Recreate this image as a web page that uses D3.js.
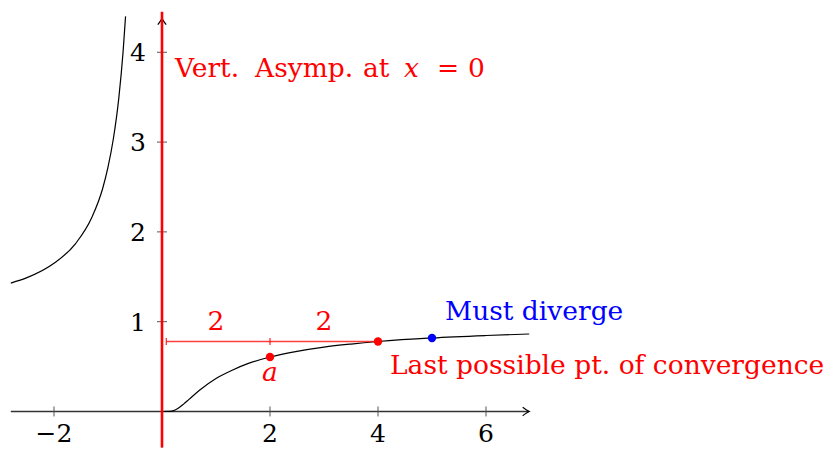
<!DOCTYPE html>
<html>
<head>
<meta charset="utf-8">
<script src="https://cdn.jsdelivr.net/npm/d3@7"></script>
<style>
  html, body { margin: 0; padding: 0; background: #fff; }
  svg { display: block; }
</style>
</head>
<body>
<svg id="chart" width="828" height="449"></svg>
<script>
// f(x) = e^(-1/x): left branch (x < 0) and right branch (x > 0)
const leftX  = [-2.8, -2.5, -2.0, -1.6, -1.3, -1.1, -1.0, -0.9, -0.8, -0.72, -0.675];
const leftY  = [1.43, 1.49, 1.65, 1.87, 2.16, 2.48, 2.72, 3.04, 3.49, 4.01, 4.40];
const rightX = [0, 0.1, 0.2, 0.3, 0.4, 0.5, 0.7, 1.0, 1.3, 1.6, 2.0, 2.5, 3.0, 3.5, 4.0, 5.0, 6.0, 6.8];
const rightY = [0, 0.0001, 0.007, 0.036, 0.082, 0.135, 0.24, 0.368, 0.46, 0.535, 0.607, 0.67, 0.717, 0.751, 0.779, 0.819, 0.846, 0.863];

// highlighted points
const pointA    = { x: 2, y: 0.607 };   // a
const pointLast = { x: 4, y: 0.779 };   // last possible point of convergence
const pointDiv  = { x: 5, y: 0.819 };   // must diverge

// distance markers along the bracket
const spanLabels = [{ x: 1, text: "2" }, { x: 3, text: "2" }];

const xTicks = [-2, 2, 4, 6];
const yTicks = [1, 2, 3, 4];

const xMin = -2.8, xMax = 6.8;
const yMin = -0.4, yMax = 4.38;

const FONT = "'DejaVu Serif', 'Liberation Serif', 'Noto Serif', serif";

const svg = d3.select("#chart").attr("font-family", FONT);
const x = d3.scaleLinear().domain([-3, 7]).range([0, 540]);
const y = d3.scaleLinear().domain([-0.4, 4.6]).range([447.4, -1.6]);

const RED = "#ff0000", BLUE = "#0000ff";
const FS = 26.5;
const TFS = 25;

// axes
const axisColor = "#333";
svg.append("line")
  .attr("x1", x(xMin)).attr("x2", x(xMax))
  .attr("y1", y(0)).attr("y2", y(0))
  .attr("stroke", axisColor).attr("stroke-width", 1.3);
svg.append("line")
  .attr("x1", x(0)).attr("x2", x(0))
  .attr("y1", y(yMin)).attr("y2", y(yMax))
  .attr("stroke", axisColor).attr("stroke-width", 1.3);

const arrow = "M -6.5,-4.2 Q -2,-0.8 0,0 Q -2,0.8 -6.5,4.2";
svg.append("path").attr("d", arrow)
  .attr("transform", `translate(${x(xMax)},${y(0)})`)
  .attr("fill", "none").attr("stroke", "#000").attr("stroke-width", 1.2);
svg.append("path").attr("d", arrow)
  .attr("transform", `translate(${x(0)},${y(yMax)}) rotate(-90)`)
  .attr("fill", "none").attr("stroke", "#000").attr("stroke-width", 1.2);

// ticks
const tickColor = "#555";
svg.selectAll(".xt").data(xTicks).join("line")
  .attr("x1", d => x(d)).attr("x2", d => x(d))
  .attr("y1", y(0) - 5).attr("y2", y(0) + 5)
  .attr("stroke", tickColor).attr("stroke-width", 1);
svg.selectAll(".yt").data(yTicks).join("line")
  .attr("x1", x(0) - 5).attr("x2", x(0) + 5)
  .attr("y1", d => y(d)).attr("y2", d => y(d))
  .attr("stroke", tickColor).attr("stroke-width", 1);

svg.selectAll(".xl").data(xTicks).join("text")
  .attr("x", d => x(d)).attr("y", 442)
  .attr("text-anchor", "middle").attr("font-size", TFS)
  .attr("fill", "#000")
  .text(d => d < 0 ? "\u2212" + Math.abs(d) : d);
svg.selectAll(".yl").data(yTicks).join("text")
  .attr("x", x(0) - 16).attr("y", d => y(d) + 9)
  .attr("text-anchor", "end").attr("font-size", TFS)
  .attr("fill", "#000")
  .text(d => d);

// function branches
const line = d3.line().x(d => x(d[0])).y(d => y(d[1])).curve(d3.curveMonotoneX);
svg.append("path")
  .attr("d", line(d3.zip(leftX, leftY)))
  .attr("fill", "none").attr("stroke", "#000").attr("stroke-width", 1.2);
svg.append("path")
  .attr("d", line(d3.zip(rightX, rightY)))
  .attr("fill", "none").attr("stroke", "#000").attr("stroke-width", 1.2);

// vertical asymptote
svg.append("line")
  .attr("x1", x(0)).attr("x2", x(0))
  .attr("y1", y(yMin)).attr("y2", y(4.45))
  .attr("stroke", RED).attr("stroke-width", 2.6);

// label, with math spacing around "="
const vert = svg.append("text")
  .attr("y", 77).attr("font-size", FS).attr("fill", RED);
[
  { t: "Vert.", x: 175 },
  { t: "Asymp.", x: 255 },
  { t: "at", x: 363 },
  { t: "x", x: 404, italic: true },
  { t: "=", x: 437 },
  { t: "0", x: 468 }
].forEach(p => {
  vert.append("tspan").attr("x", p.x)
    .attr("font-style", p.italic ? "italic" : null)
    .text(p.t);
});

// bracket from the asymptote to the last point
const bx0 = 0.08;
const bracket = svg.append("g")
  .attr("stroke", RED).attr("stroke-opacity", 0.75).attr("stroke-width", 1.4);
bracket.append("line")
  .attr("x1", x(bx0)).attr("x2", x(pointLast.x))
  .attr("y1", y(pointLast.y)).attr("y2", y(pointLast.y));
bracket.selectAll("line.bt").data([bx0, pointA.x]).join("line")
  .attr("class", "bt")
  .attr("x1", d => x(d)).attr("x2", d => x(d))
  .attr("y1", y(pointLast.y) - 3.5).attr("y2", y(pointLast.y) + 3.5);
svg.selectAll(".sl").data(spanLabels).join("text")
  .attr("x", d => x(d.x)).attr("y", y(pointLast.y) - 12)
  .attr("text-anchor", "middle").attr("font-size", FS).attr("fill", RED)
  .text(d => d.text);

// points
svg.selectAll(".pt").data([
  { p: pointA, c: RED }, { p: pointLast, c: RED }, { p: pointDiv, c: BLUE }
]).join("circle")
  .attr("cx", d => x(d.p.x)).attr("cy", d => y(d.p.y))
  .attr("r", 4.2).attr("fill", d => d.c);

svg.append("text")
  .attr("x", x(pointA.x)).attr("y", y(pointA.y) + 24)
  .attr("text-anchor", "middle").attr("font-size", FS)
  .attr("font-style", "italic").attr("fill", RED)
  .text("a");

svg.append("text")
  .attr("x", 390).attr("y", 374)
  .attr("font-size", FS).attr("fill", RED)
  .text("Last possible pt. of convergence");

svg.append("text")
  .attr("x", 445).attr("y", 320)
  .attr("font-size", FS).attr("fill", BLUE)
  .text("Must diverge");
</script>
</body>
</html>
